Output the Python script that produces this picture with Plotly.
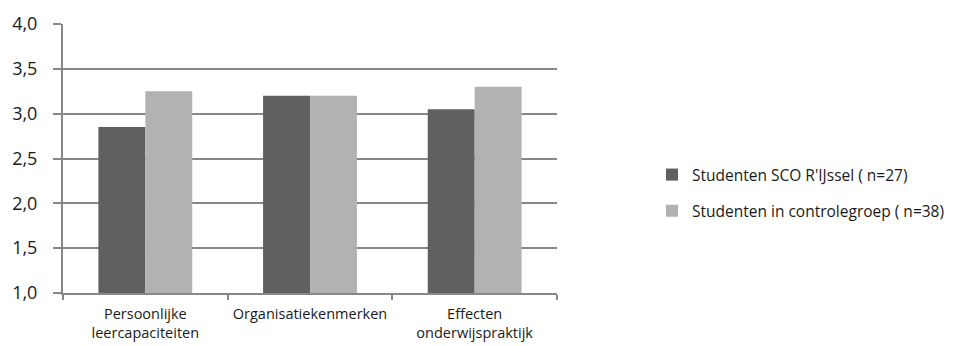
import plotly.graph_objects as go

categories = ["Persoonlijke<br>leercapaciteiten", "Organisatiekenmerken", "Effecten<br>onderwijspraktijk"]
series_names = ["Studenten SCO R'IJssel ( n=27)", "Studenten in controlegroep ( n=38)"]
sco_values = [2.85, 3.20, 3.05]
control_values = [3.25, 3.20, 3.30]
y_ticks = [1.0, 1.5, 2.0, 2.5, 3.0, 3.5, 4.0]
axis_floor = 1.0

colors = ["#606060", "#b2b2b2"]
font_family = "Open Sans, Lato, sans-serif"

fig = go.Figure()
for i, (name, vals) in enumerate(zip(series_names, [sco_values, control_values])):
    # bars rise from the bottom of the value axis (1,0)
    fig.add_trace(go.Bar(
        x=categories, y=[v - axis_floor for v in vals], base=axis_floor,
        name=name,
        marker=dict(color=colors[i], line=dict(width=0)),
        legendgroup=f"g{i}",
        hovertemplate="%{x}: %{customdata}<extra></extra>", customdata=vals,
    ))

fig.update_layout(
    width=958, height=346,
    margin=dict(l=63, r=401, t=24, b=53),
    paper_bgcolor="white", plot_bgcolor="white",
    barmode="group", bargap=0.43, bargroupgap=0,
    separators=", ",
    font=dict(family=font_family, size=14, color="#1a1a1a"),
    showlegend=True,
    legend=dict(
        xref="container", yref="container",
        x=652 / 958, y=1 - 158 / 346, xanchor="left", yanchor="top",
        font=dict(size=15.5, color="#1a1a1a"),
        traceorder="grouped", tracegroupgap=13,
        itemwidth=30, bgcolor="rgba(0,0,0,0)",
    ),
)

fig.update_yaxes(
    range=[1, 4], tickvals=y_ticks, tickformat=".1f",
    showgrid=True, gridcolor="#878787", gridwidth=2,
    showline=True, linecolor="#878787", linewidth=2,
    ticks="outside", ticklen=8, tickcolor="#878787", tickwidth=2,
    ticklabelstandoff=12, automargin=False,
    tickfont=dict(size=18), zeroline=False,
)
fig.update_xaxes(
    showline=True, linecolor="#878787", linewidth=2,
    ticks="outside", tickson="boundaries", ticklen=5, tickcolor="#878787", tickwidth=2,
    ticklabelstandoff=7, automargin=False,
    tickfont=dict(size=14.5),
)

fig.write_html("out.html")
